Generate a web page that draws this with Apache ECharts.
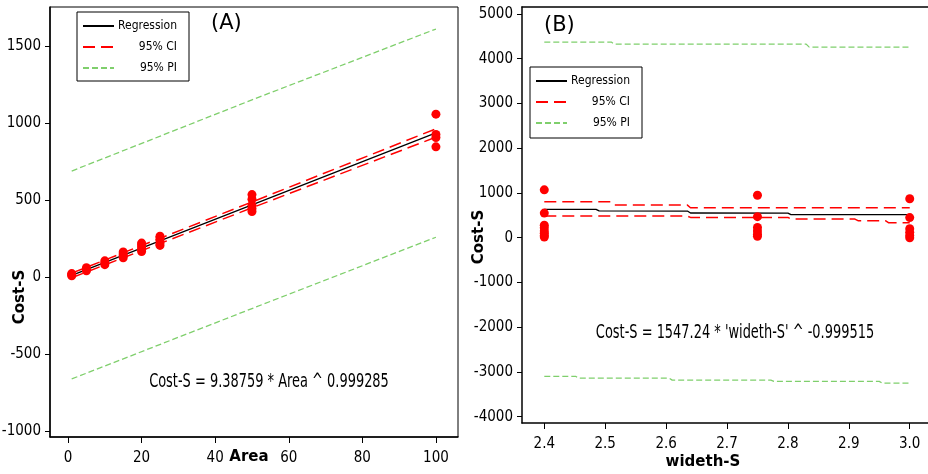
<!DOCTYPE html>
<html><head><meta charset="utf-8">
<script src="https://cdn.jsdelivr.net/npm/echarts@6/dist/echarts.min.js"></script>
<style>html,body{margin:0;padding:0;background:#fff}#c{width:928px;height:474px}</style>
</head><body><div id="c"></div>
<script>
// ---------- Panel A data ----------
const areaValues = [1, 5, 10, 15, 20, 25, 50, 100];
const costAObserved = [
  [8, 15, 22],
  [40, 50, 60],
  [80, 92, 105],
  [125, 138, 150, 162],
  [165, 180, 195, 210, 220],
  [205, 220, 240, 255, 265],
  [425, 445, 465, 505, 535],
  [845, 905, 925, 1057]
];
const fitAreaX = [1, 50, 100];
const regA = [10, 468, 936];
const ciUpA = [25, 487, 962];
const ciLoA = [-5, 449, 908];
const piUpA = [688, 1150, 1610];
const piLoA = [-662, -205, 258];
const xTicksA = [0, 20, 40, 60, 80, 100];
const yTicksA = [-1000, -500, 0, 500, 1000, 1500];

// ---------- Panel B data ----------
const widthValues = [2.4, 2.75, 3.0];
const costBObserved = [
  [1070, 550, 280, 220, 150, 100, 50, 15],
  [950, 470, 230, 150, 80, 30],
  [870, 450, 200, 120, 50, 0]
];
const regBX = [2.4, 2.485, 2.49, 2.635, 2.64, 2.80, 2.805, 3.0];
const regB  = [632, 632, 598, 596, 552, 550, 515, 514];
const ciUpBX = [2.4, 2.51, 2.515, 2.635, 2.64, 3.0];
const ciUpB  = [804, 804, 729, 729, 670, 670];
const ciLoBX = [2.4, 2.635, 2.64, 2.80, 2.805, 2.91, 2.915, 2.96, 2.965, 3.0];
const ciLoB  = [483, 483, 454, 454, 416, 416, 380, 380, 335, 335];
const piUpBX = [2.4, 2.51, 2.515, 2.83, 2.835, 3.0];
const piUpB  = [4372, 4372, 4327, 4327, 4260, 4260];
const piLoBX = [2.4, 2.452, 2.456, 2.605, 2.61, 2.772, 2.777, 2.95, 2.955, 3.0];
const piLoB  = [-3101, -3101, -3138, -3138, -3183, -3183, -3212, -3212, -3250, -3250];
const xTicksB = [2.4, 2.5, 2.6, 2.7, 2.8, 2.9, 3.0];
const yTicksB = [-4000, -3000, -2000, -1000, 0, 1000, 2000, 3000, 4000, 5000];

const FONT = "'DejaVu Sans Condensed', 'Liberation Sans', sans-serif";
const RED = '#ff0000', GREEN = '#7fcf6c';

function pairs(xs, ys) { return xs.map((x, i) => [x, ys[i]]); }
function scatterPts(xs, groups) {
  const out = [];
  xs.forEach((x, i) => groups[i].forEach(v => out.push([x, v])));
  return out;
}

const chart = echarts.init(document.getElementById('c'), null, {renderer: 'canvas'});

const axisLabelStyle = {color: '#000', fontFamily: FONT, fontSize: 15};
const lineSer = (name, xi, data, color, type, width) => ({
  name, type: 'line', xAxisIndex: xi, yAxisIndex: xi, data, symbol: 'none',
  lineStyle: {color, type, width}, itemStyle: {color}, silent: true, z: 3, animation: false
});

const legendCommon = {
  orient: 'vertical', itemWidth: 31, itemHeight: 14, itemGap: 9,
  borderColor: '#000', borderWidth: 1, backgroundColor: '#fff',
  data: ['Regression', '95% CI', '95% PI'],
  itemStyle: {color: 'rgba(0,0,0,0)', borderColor: 'rgba(0,0,0,0)', borderWidth: 0},
  formatter: n => '{a|' + n + '}',
  textStyle: {rich: {a: {fontFamily: FONT, fontSize: 12, color: '#000', width: 58, align: 'right'}}},
  selectedMode: false
};

const plain = v => String(v);

chart.setOption({
  animation: false,
  grid: [
    {left: 50, top: 7, width: 408, height: 430, show: true, borderColor: '#000', borderWidth: 1, outerBoundsMode: 'none', containLabel: false},
    {left: 522, top: 7, width: 406, height: 416, outerBoundsMode: 'none', containLabel: false}
  ],
  legend: [
    Object.assign({}, legendCommon, {left: 77, top: 12, padding: [8, 12, 7, 5]}),
    Object.assign({}, legendCommon, {left: 530, top: 67, padding: [8, 12, 9, 5]})
  ],
  xAxis: [
    {type: 'value', gridIndex: 0, min: -4.9, max: 106,
     name: 'Area', nameLocation: 'middle', nameGap: 13, nameMoveOverlap: false,
     nameTextStyle: {fontFamily: 'DejaVu Sans', fontWeight: 'bold', fontSize: 15, color: '#000', padding: [0, 10, 0, 0]},
     axisLine: {onZero: false, lineStyle: {color: '#000', width: 1.5}},
     axisTick: {customValues: xTicksA, length: 6, lineStyle: {color: '#000'}},
     axisLabel: {customValues: xTicksA, margin: 14, formatter: plain, ...axisLabelStyle},
     splitLine: {show: false}},
    {type: 'value', gridIndex: 1, min: 2.3634, max: 3.030,
     name: 'wideth-S', nameLocation: 'middle', nameGap: 32, nameMoveOverlap: false,
     nameTextStyle: {fontFamily: 'DejaVu Sans', fontWeight: 'bold', fontSize: 15, color: '#000', padding: [0, 44, 0, 0]},
     axisLine: {onZero: false, lineStyle: {color: '#000', width: 1.5}},
     axisTick: {customValues: xTicksB, length: 6, lineStyle: {color: '#000'}},
     axisLabel: {customValues: xTicksB, margin: 14, formatter: v => v.toFixed(1), ...axisLabelStyle},
     splitLine: {show: false}},
    {type: 'value', gridIndex: 1, position: 'top', min: 2.3634, max: 3.030,
     axisLine: {onZero: false, lineStyle: {color: '#000', width: 1.5}}, axisTick: {show: false},
     axisLabel: {show: false}, splitLine: {show: false}}
  ],
  yAxis: [
    {type: 'value', gridIndex: 0, min: -1039, max: 1753,
     axisLine: {show: true, onZero: false, lineStyle: {color: '#000', width: 1.5}},
     axisTick: {show: true, customValues: yTicksA, length: 5, lineStyle: {color: '#000'}},
     axisLabel: {customValues: yTicksA, margin: 9, formatter: plain, ...axisLabelStyle},
     splitLine: {show: false}},
    {type: 'value', gridIndex: 1, min: -4141, max: 5156,
     axisLine: {show: true, onZero: false, lineStyle: {color: '#000', width: 1.5}},
     axisTick: {show: true, customValues: yTicksB, length: 5, lineStyle: {color: '#000'}},
     axisLabel: {customValues: yTicksB, margin: 9, formatter: plain, ...axisLabelStyle},
     splitLine: {show: false}}
  ],
  series: [
    lineSer('95% PI', 0, pairs(fitAreaX, piUpA), GREEN, [6, 3], 1.3),
    lineSer('95% PI', 0, pairs(fitAreaX, piLoA), GREEN, [6, 3], 1.3),
    lineSer('95% CI', 0, pairs(fitAreaX, ciUpA), RED, [12, 6], 1.5),
    lineSer('95% CI', 0, pairs(fitAreaX, ciLoA), RED, [12, 6], 1.5),
    lineSer('Regression', 0, pairs(fitAreaX, regA), '#000', 'solid', 1.3),
    {type: 'scatter', xAxisIndex: 0, yAxisIndex: 0, data: scatterPts(areaValues, costAObserved),
     symbolSize: 9, itemStyle: {color: RED, opacity: 1}, z: 5, silent: true},

    lineSer('95% PI', 1, pairs(piUpBX, piUpB), GREEN, [6, 3], 1.3),
    lineSer('95% PI', 1, pairs(piLoBX, piLoB), GREEN, [6, 3], 1.3),
    lineSer('95% CI', 1, pairs(ciUpBX, ciUpB), RED, [12, 6], 1.5),
    lineSer('95% CI', 1, pairs(ciLoBX, ciLoB), RED, [12, 6], 1.5),
    lineSer('Regression', 1, pairs(regBX, regB), '#000', 'solid', 1.3),
    {type: 'scatter', xAxisIndex: 1, yAxisIndex: 1, data: scatterPts(widthValues, costBObserved),
     symbolSize: 9, itemStyle: {color: RED, opacity: 1}, z: 5, silent: true}
  ],
  graphic: [
    {type: 'text', left: 211, top: 13, style: {text: '(A)', fontFamily: 'DejaVu Sans', fontSize: 21, fill: '#000'}},
    {type: 'text', left: 544, top: 15, style: {text: '(B)', fontFamily: 'DejaVu Sans', fontSize: 21, fill: '#000'}},
    {type: 'text', x: 269, y: 382, scaleX: 0.72, style: {text: 'Cost-S = 9.38759 * Area ^ 0.999285', fontFamily: FONT, fontSize: 20, fill: '#000', align: 'center', verticalAlign: 'middle'}},
    {type: 'text', x: 735, y: 333, scaleX: 0.72, style: {text: "Cost-S = 1547.24 * 'wideth-S' ^ -0.999515", fontFamily: FONT, fontSize: 20, fill: '#000', align: 'center', verticalAlign: 'middle'}},
    {type: 'text', x: 20, y: 297, rotation: Math.PI / 2, style: {text: 'Cost-S', fontFamily: 'DejaVu Sans', fontWeight: 'bold', fontSize: 15, fill: '#000', align: 'center', verticalAlign: 'middle'}},
    {type: 'text', x: 479, y: 237, rotation: Math.PI / 2, style: {text: 'Cost-S', fontFamily: 'DejaVu Sans', fontWeight: 'bold', fontSize: 15, fill: '#000', align: 'center', verticalAlign: 'middle'}}
  ]
});
</script>
</body></html>
